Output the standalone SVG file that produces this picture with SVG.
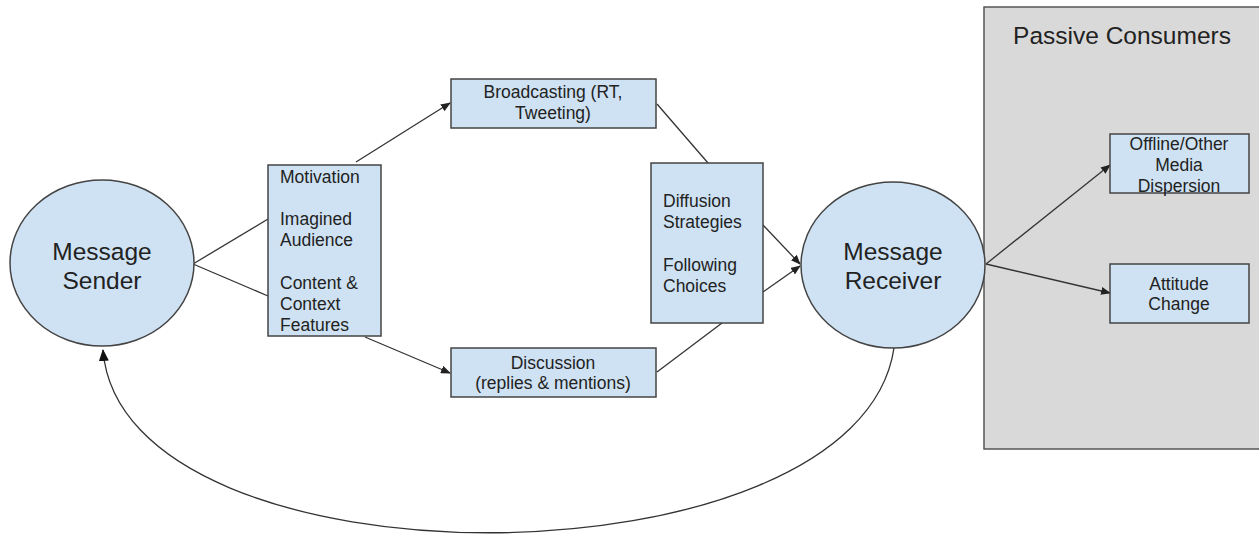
<svg xmlns="http://www.w3.org/2000/svg" width="1259" height="537" viewBox="0 0 1259 537">
<defs>
<style>
.shape{fill:#cfe2f3;stroke:#444;stroke-width:1.5}
.group{fill:#d9d9d9;stroke:#555;stroke-width:1.5}
.t{font-family:"Liberation Sans",Arial,sans-serif;fill:#222}
.s{font-size:17.5px}
.b{font-size:24.5px}
.c{text-anchor:middle}
.edge{fill:none;stroke:#333;stroke-width:1.3}
</style>
<marker id="ah" markerUnits="userSpaceOnUse" markerWidth="10" markerHeight="8" refX="9" refY="4" orient="auto">
<path d="M0,0 L10,4 L0,8 z" fill="#222"/>
</marker>
<marker id="ah2" markerUnits="userSpaceOnUse" markerWidth="12" markerHeight="10" refX="11" refY="5" orient="auto">
<path d="M0,0 L12,5 L0,10 z" fill="#111"/>
</marker>
</defs>
<rect width="1259" height="537" fill="#fff"/>

<g id="passive-consumers">
<rect class="group" x="984" y="7" width="285" height="442"/>
<text class="t b c" x="1122" y="44">Passive Consumers</text>
</g>

<g id="connectors">
<line class="edge" x1="193" y1="264" x2="268" y2="219"/>
<line class="edge" x1="193" y1="264" x2="268" y2="296"/>
<line class="edge" x1="356" y1="162" x2="450" y2="103" marker-end="url(#ah)"/>
<line class="edge" x1="365" y1="337" x2="450" y2="373" marker-end="url(#ah)"/>
<line class="edge" x1="657" y1="104" x2="708" y2="163"/>
<line class="edge" x1="657" y1="372" x2="722" y2="323"/>
<line class="edge" x1="763" y1="225" x2="800" y2="264" marker-end="url(#ah)"/>
<line class="edge" x1="763" y1="292" x2="800" y2="266" marker-end="url(#ah)"/>
<line class="edge" x1="986" y1="264" x2="1110" y2="165" marker-end="url(#ah)"/>
<line class="edge" x1="986" y1="264" x2="1110" y2="293" marker-end="url(#ah)"/>
<path class="edge" d="M894,348 C858,592 122,596 103,350" marker-end="url(#ah2)"/>
</g>

<g id="message-sender">
<ellipse class="shape" cx="102" cy="263" rx="92" ry="83"/>
<text class="t b c" x="102" y="260">Message</text>
<text class="t b c" x="102" y="289">Sender</text>
</g>

<g id="sender-factors">
<rect class="shape" x="268" y="165" width="113" height="171"/>
<text class="t s" x="280" y="183">Motivation</text>
<text class="t s" x="280" y="225">Imagined</text>
<text class="t s" x="280" y="246">Audience</text>
<text class="t s" x="280" y="289">Content &amp;</text>
<text class="t s" x="280" y="310">Context</text>
<text class="t s" x="280" y="331">Features</text>
</g>

<g id="broadcasting">
<rect class="shape" x="451" y="79" width="205" height="49"/>
<text class="t s c" x="553" y="98">Broadcasting (RT,</text>
<text class="t s c" x="553" y="119">Tweeting)</text>
</g>

<g id="discussion">
<rect class="shape" x="451" y="348" width="205" height="49"/>
<text class="t s c" x="553" y="369">Discussion</text>
<text class="t s c" x="553" y="389">(replies &amp; mentions)</text>
</g>

<g id="diffusion">
<rect class="shape" x="651" y="163" width="112" height="160"/>
<text class="t s" x="663" y="207">Diffusion</text>
<text class="t s" x="663" y="228">Strategies</text>
<text class="t s" x="663" y="271">Following</text>
<text class="t s" x="663" y="292">Choices</text>
</g>

<g id="message-receiver">
<ellipse class="shape" cx="893" cy="265" rx="92" ry="83"/>
<text class="t b c" x="893" y="260">Message</text>
<text class="t b c" x="893" y="289">Receiver</text>
</g>

<g id="offline-media">
<rect class="shape" x="1110" y="134" width="139" height="59"/>
<text class="t s c" x="1179" y="150">Offline/Other</text>
<text class="t s c" x="1179" y="171">Media</text>
<text class="t s c" x="1179" y="192">Dispersion</text>
</g>

<g id="attitude-change">
<rect class="shape" x="1110" y="264" width="139" height="59"/>
<text class="t s c" x="1179" y="290">Attitude</text>
<text class="t s c" x="1179" y="310">Change</text>
</g>
</svg>
